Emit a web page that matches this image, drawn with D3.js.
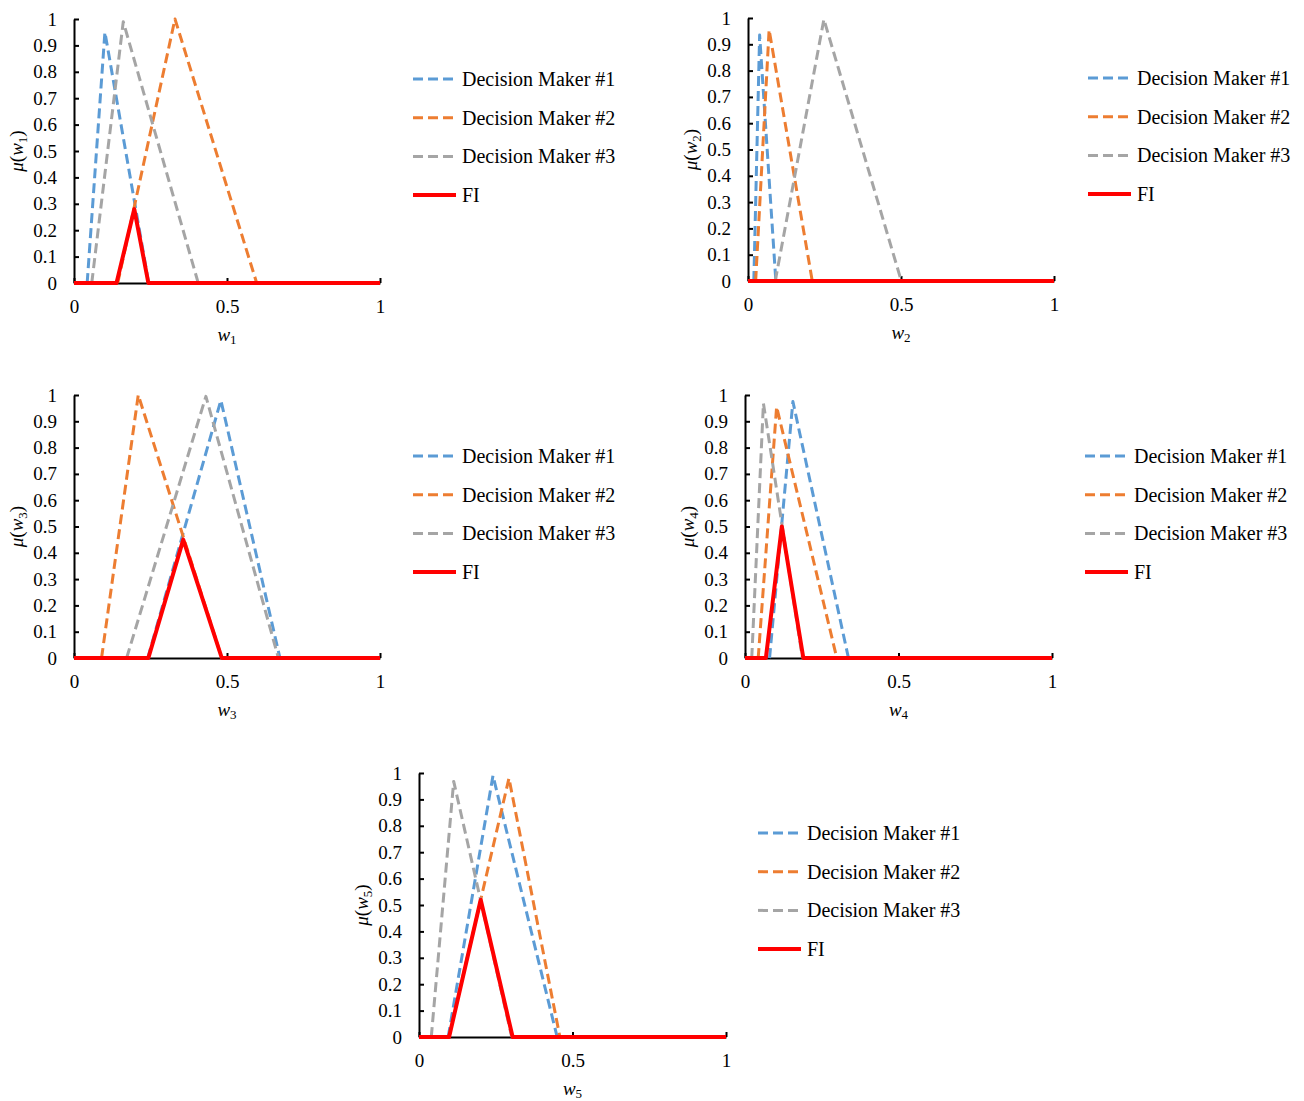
<!DOCTYPE html>
<html>
<head>
<meta charset="utf-8">
<script src="https://cdn.jsdelivr.net/npm/d3@7"></script>
<style>
  body { margin: 0; background: #fff; }
</style>
</head>
<body>
<svg id="chart" width="1304" height="1101"></svg>
<script>
// weight index for each panel (w1..w5)
const weightIdx = ['1', '2', '3', '4', '5']
const seriesNames = ['Decision Maker #1', 'Decision Maker #2', 'Decision Maker #3', 'FI']

// triangular membership functions, [w, mu] per panel
const dm1 = [
  [[0.043, 0], [0.101, 0.95], [0.244, 0]],
  [[0.019, 0], [0.038, 0.935], [0.091, 0]],
  [[0.241, 0], [0.480, 0.98], [0.673, 0]],
  [[0.080, 0], [0.156, 0.975], [0.337, 0]],
  [[0.095, 0], [0.241, 0.99], [0.450, 0]]
]
const dm2 = [
  [[0.143, 0], [0.330, 1.0], [0.597, 0]],
  [[0.025, 0], [0.069, 0.955], [0.210, 0]],
  [[0.090, 0], [0.210, 1.0], [0.483, 0]],
  [[0.043, 0], [0.103, 0.955], [0.299, 0]],
  [[0.097, 0], [0.293, 0.98], [0.459, 0]]
]
const dm3 = [
  [[0.058, 0], [0.161, 0.99], [0.406, 0]],
  [[0.089, 0], [0.248, 0.995], [0.501, 0]],
  [[0.172, 0], [0.431, 0.995], [0.668, 0]],
  [[0.022, 0], [0.060, 0.968], [0.187, 0]],
  [[0.040, 0], [0.113, 0.968], [0.302, 0]]
]
const fi = [
  [[0, 0], [0.139, 0], [0.197, 0.28], [0.243, 0], [1, 0]],
  [[0, 0], [1, 0]],
  [[0, 0], [0.243, 0], [0.357, 0.45], [0.483, 0], [1, 0]],
  [[0, 0], [0.068, 0], [0.120, 0.5], [0.190, 0], [1, 0]],
  [[0, 0], [0.098, 0], [0.201, 0.52], [0.305, 0], [1, 0]]
]

const xTicks = [0, 0.5, 1]
const yTicks = [0, 0.1, 0.2, 0.3, 0.4, 0.5, 0.6, 0.7, 0.8, 0.9, 1]

const colors = ['#5B9BD5', '#ED7D31', '#A5A5A5', '#FF0000']
const serif = '"Liberation Serif", "Times New Roman", serif'

// pixel layout of each panel
const layout = [
  { x0: 74, x1: 380, y0: 283, y1: 19, legX: 413, legY: 79 },
  { x0: 748, x1: 1054, y0: 281, y1: 18, legX: 1088, legY: 78 },
  { x0: 74, x1: 380, y0: 658, y1: 395, legX: 413, legY: 456 },
  { x0: 745, x1: 1052, y0: 658, y1: 395, legX: 1085, legY: 456 },
  { x0: 419, x1: 726, y0: 1037, y1: 773, legX: 758, legY: 833 }
]

const svg = d3.select('#chart')

layout.forEach((p, i) => {
  const x = d3.scaleLinear().domain([0, 1]).range([p.x0, p.x1])
  const y = d3.scaleLinear().domain([0, 1]).range([p.y0, p.y1])
  const g = svg.append('g')

  // axes first so the red line covers the baseline
  const yAxis = g.append('g')
      .attr('transform', `translate(${p.x0},0)`)
      .call(d3.axisLeft(y).tickValues(yTicks).tickFormat(d => String(d))
        .tickSizeInner(-5).tickSizeOuter(0).tickPadding(17))
  const xAxis = g.append('g')
      .attr('transform', `translate(0,${p.y0})`)
      .call(d3.axisBottom(x).tickValues(xTicks).tickFormat(d => String(d))
        .tickSizeInner(-5).tickSizeOuter(0).tickPadding(17))
  ;[yAxis, xAxis].forEach(a => {
    a.select('.domain').attr('stroke', '#000').attr('stroke-width', 2)
    a.selectAll('.tick line').attr('stroke', '#000').attr('stroke-width', 2)
    a.selectAll('.tick text').attr('font-size', 19).attr('fill', '#000')
        .style('font-family', serif)
  })

  // axis titles
  const xt = g.append('text')
      .attr('x', (p.x0 + p.x1) / 2)
      .attr('y', p.y0 + 58)
      .attr('text-anchor', 'middle')
      .attr('font-size', 19)
      .style('font-family', serif)
  xt.append('tspan').attr('font-style', 'italic').text('w')
  xt.append('tspan').attr('font-size', 13).attr('dy', 3).text(weightIdx[i])

  const yt = g.append('text')
      .attr('transform', `translate(${p.x0 - 51},${(p.y0 + p.y1) / 2}) rotate(-90)`)
      .attr('text-anchor', 'middle')
      .attr('font-size', 19)
      .style('font-family', serif)
  yt.append('tspan').attr('font-style', 'italic').text('μ')
  yt.append('tspan').text('(')
  yt.append('tspan').attr('font-style', 'italic').text('w')
  yt.append('tspan').attr('font-size', 13).attr('dy', 4).text(weightIdx[i])
  yt.append('tspan').attr('dy', -4).text(')')

  // series
  const line = d3.line().x(d => x(d[0])).y(d => y(d[1]))
  const series = [dm1[i], dm2[i], dm3[i], fi[i]]
  series.forEach((s, k) => {
    g.append('path')
        .attr('d', line(s))
        .attr('fill', 'none')
        .attr('stroke', colors[k])
        .attr('stroke-width', k === 3 ? 4 : 3)
        .attr('stroke-dasharray', k === 3 ? null : '10,5')
        .attr('stroke-linejoin', 'round')
  })

  // legend
  const leg = g.append('g').attr('transform', `translate(${p.legX},${p.legY})`)
  seriesNames.forEach((name, k) => {
    const row = leg.append('g').attr('transform', `translate(0,${k * 38.7})`)
    row.append('line')
        .attr('x1', 0).attr('x2', 43).attr('y1', 0).attr('y2', 0)
        .attr('stroke', colors[k])
        .attr('stroke-width', k === 3 ? 4 : 3)
        .attr('stroke-dasharray', k === 3 ? null : '10,5')
    row.append('text')
        .attr('x', 49).attr('y', 0).attr('dy', '0.35em')
        .attr('font-size', 20)
        .style('font-family', serif)
        .text(name)
  })
})
</script>
</body>
</html>
